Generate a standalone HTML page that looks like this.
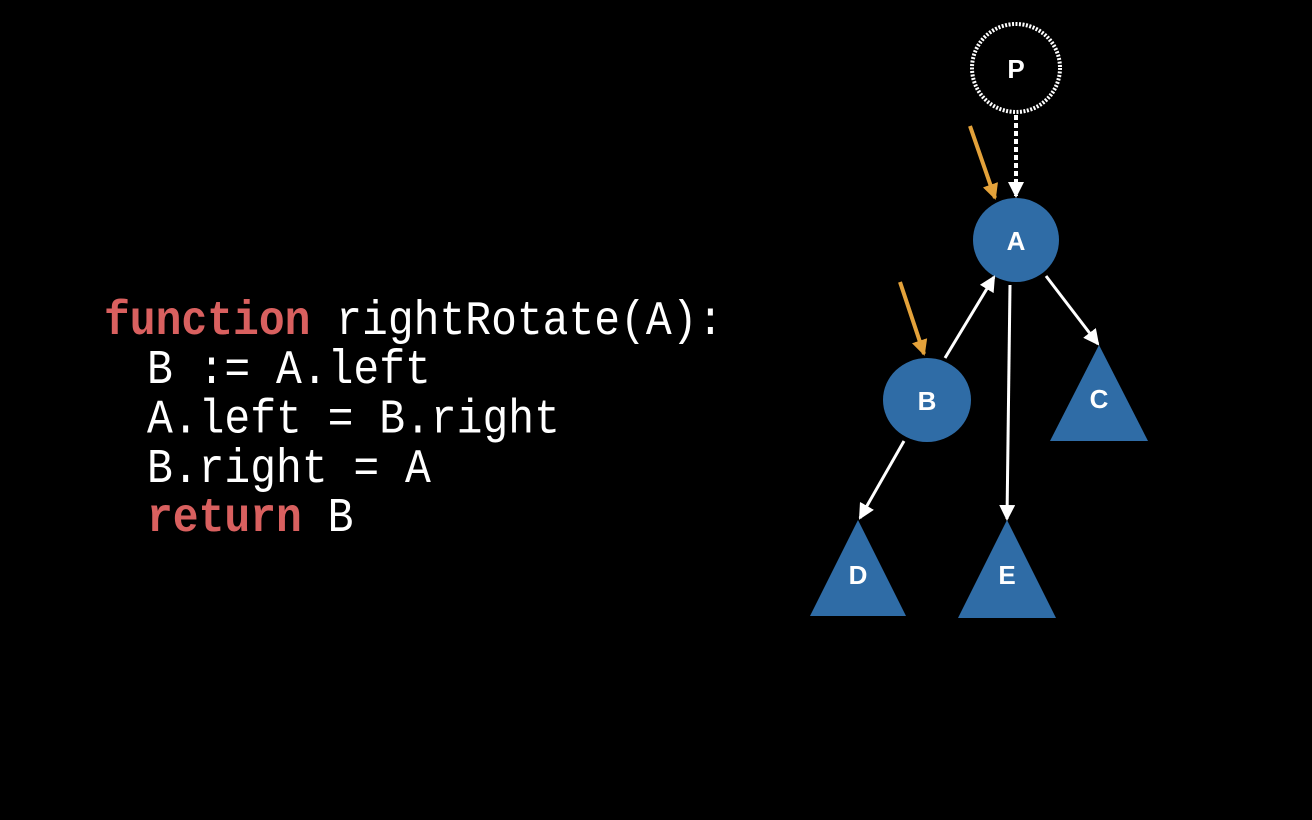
<!DOCTYPE html>
<html><head><style>
body{margin:0;background:#000;width:1312px;height:820px;overflow:hidden;position:relative}
.code{position:absolute;left:104px;top:297px;margin:0;font-family:"Liberation Mono","DejaVu Sans Mono",monospace;font-size:43px;line-height:44px;color:#fff;transform:scaleY(1.12);transform-origin:0 0;white-space:pre}
.code div.i{padding-left:43px}
.k{color:#d9605f;font-weight:bold}
</style></head><body>
<div class="code"><div><span class="k">function</span> rightRotate(A):</div><div class="i">B := A.left</div><div class="i">A.left = B.right</div><div class="i">B.right = A</div><div class="i"><span class="k">return</span> B</div></div>
<svg width="1312" height="820" style="position:absolute;left:0;top:0">
<defs>
<marker id="wh" markerWidth="16" markerHeight="16" refX="14" refY="8" orient="auto" markerUnits="userSpaceOnUse"><path d="M0,0 L16,8 L0,16 z" fill="#fff"/></marker>
<marker id="oh" markerWidth="16" markerHeight="16" refX="14" refY="8" orient="auto" markerUnits="userSpaceOnUse"><path d="M0,0 L16,8 L0,16 z" fill="#e4a23a"/></marker>
</defs>
<g fill="#2f6ca6">
<ellipse cx="1016" cy="240" rx="43" ry="42"/>
<ellipse cx="927" cy="400" rx="44" ry="42"/>
<polygon points="1099,345 1050,441 1148,441"/>
<polygon points="858,520 810,616 906,616"/>
<polygon points="1007,520 958,618 1056,618"/>
</g>
<circle cx="1016" cy="68" r="44" fill="none" stroke="#fff" stroke-width="4" stroke-dasharray="2 1.5"/>
<g stroke="#fff" stroke-width="3" fill="none">
<line x1="1016" y1="115" x2="1016" y2="196" stroke-dasharray="5 3" stroke-width="4" marker-end="url(#wh)"/>
<line x1="1046" y1="276" x2="1098" y2="344" marker-end="url(#wh)"/>
<line x1="1010" y1="285" x2="1007" y2="519" marker-end="url(#wh)"/>
<line x1="945" y1="358" x2="994" y2="277" marker-end="url(#wh)"/>
<line x1="904" y1="441" x2="860" y2="518" marker-end="url(#wh)"/>
</g>
<g stroke="#e4a23a" stroke-width="4">
<line x1="970" y1="126" x2="995" y2="198" marker-end="url(#oh)"/>
<line x1="900" y1="282" x2="924" y2="354" marker-end="url(#oh)"/>
</g>
<g fill="#fff" font-family="Liberation Sans,sans-serif" font-weight="bold" font-size="26" text-anchor="middle">
<text x="1016" y="78">P</text>
<text x="1016" y="250">A</text>
<text x="927" y="410">B</text>
<text x="1099" y="408">C</text>
<text x="858" y="584">D</text>
<text x="1007" y="584">E</text>
</g>
</svg>
</body></html>
